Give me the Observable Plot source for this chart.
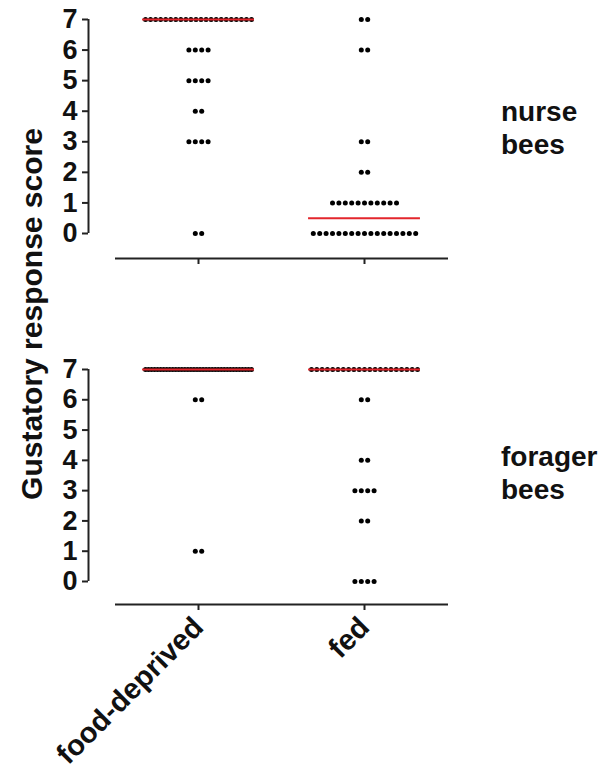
<!DOCTYPE html>
<html><head><meta charset="utf-8">
<script src="https://cdn.jsdelivr.net/npm/d3@7"></script>
<script src="https://cdn.jsdelivr.net/npm/@observablehq/plot@0.6"></script>
<style>
body{margin:0;background:#fff;}
#wrap{position:relative;width:616px;height:771px;overflow:hidden;font-family:"Liberation Sans",Arial,sans-serif;font-weight:bold;color:#111;}
.panel{position:absolute;left:0;}
.lab{position:absolute;font-size:28px;line-height:33px;}
#ytitle{position:absolute;font-size:30px;white-space:nowrap;transform:translate(-50%,-50%) rotate(-90deg);left:32px;top:314px;}
</style></head>
<body><div id="wrap"></div>
<script>
// ---- data ----
const categories = ["food-deprived", "fed"];
const scores = [0, 1, 2, 3, 4, 5, 6, 7];
// number of bees per score (index = score 0..7)
const nurseDeprivedCounts  = [2, 0, 0, 4, 2, 4, 4, 22];
const nurseFedCounts       = [17, 11, 2, 2, 0, 0, 2, 2];
const foragerDeprivedCounts = [0, 2, 0, 0, 0, 0, 2, 36];
const foragerFedCounts      = [4, 0, 2, 4, 2, 0, 2, 21];
const nurseMedians   = [7, 0.5];
const foragerMedians = [7, 7];
const panelLabels = ["nurse\nbees", "forager\nbees"];
const yTitle = "Gustatory response score";

// ---- layout ----
const unit = 166;                       // px between categories
const xDomain = [(88 - 198) / unit, (448 - 198) / unit];
const axisStart = (115 - 198) / unit;

function dots(countsList) {
  const out = [];
  countsList.forEach((counts, gi) => {
    counts.forEach((n, score) => {
      const s = n > 1 ? Math.min(6.4, 106 / (n - 1)) : 0;
      for (let i = 0; i < n; i++) {
        out.push({x: gi + (i - (n - 1) / 2) * s / unit, y: score, group: categories[gi]});
      }
    });
  });
  return out;
}

function panel(countsList, medians, yMin, height, marginBottom, showLabels) {
  const medData = medians.map((m, i) => ({x: i, y: m}));
  return Plot.plot({
    width: 616, height,
    marginTop: 19, marginLeft: 88, marginRight: 168, marginBottom,
    x: {domain: xDomain, axis: null, label: null},
    y: {domain: [yMin, 7], axis: null, label: null},
    style: {fontFamily: "Liberation Sans, Arial, sans-serif", color: "#111", background: "transparent"},
    marks: [
      Plot.ruleX([xDomain[0]], {y1: 0, y2: 7, stroke: "#222", strokeWidth: 2}),
      Plot.axisY({ticks: scores, label: null, tickSize: 6, tickPadding: 5, fontSize: 27, fontWeight: "bold", stroke: "#222", strokeWidth: 2, anchor: "left"}),
      Plot.ruleY([yMin], {x1: axisStart, x2: xDomain[1], stroke: "#222", strokeWidth: 2.2}),
      Plot.axisX({ticks: [0, 1], label: null, tickSize: 6, stroke: "#222", strokeWidth: 2,
        tickFormat: showLabels ? (i => categories[i]) : () => "",
        tickRotate: -45, tickPadding: 12, fontSize: 29, fontWeight: "bold", anchor: "bottom"}),
      Plot.dot(dots(countsList), {x: "x", y: "y", r: 2.5, fill: "#000", stroke: "none"}),
      Plot.ruleY(medData, {x1: d => d.x - 0.337, x2: d => d.x + 0.337, y: "y", stroke: "#e3262c", strokeWidth: 2})
    ]
  });
}

const wrap = document.getElementById("wrap");
const top1 = panel([nurseDeprivedCounts, nurseFedCounts], nurseMedians, -0.818, 270, 12, false);
top1.classList.add("panel"); top1.style.top = "0px";
wrap.appendChild(top1);
const bot = panel([foragerDeprivedCounts, foragerFedCounts], foragerMedians, -0.76, 421, 167, true);
bot.classList.add("panel"); bot.style.top = "350px";
wrap.appendChild(bot);

const positions = [[501, 95], [501, 440]];
panelLabels.forEach((t, i) => {
  const d = document.createElement("div");
  d.className = "lab";
  d.style.left = positions[i][0] + "px";
  d.style.top = positions[i][1] + "px";
  d.innerHTML = t.replace("\n", "<br>");
  wrap.appendChild(d);
});
const yt = document.createElement("div");
yt.id = "ytitle"; yt.textContent = yTitle;
wrap.appendChild(yt);
</script></body></html>
